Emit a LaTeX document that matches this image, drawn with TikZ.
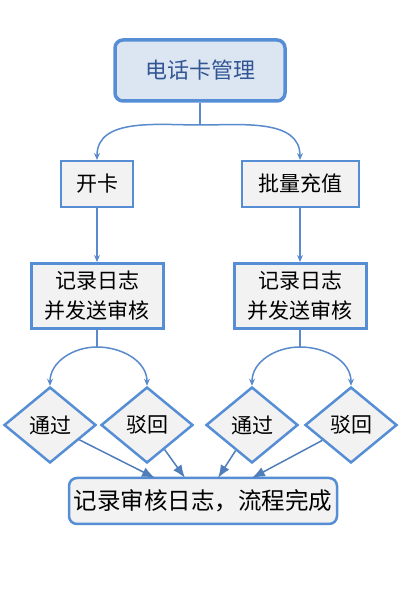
\documentclass[tikz,border=0pt]{standalone}
\usepackage{fontspec}
\setmainfont{Noto Sans CJK SC}
\usetikzlibrary{shapes.geometric,arrows.meta}
\definecolor{bordblue}{RGB}{85,142,213}
\definecolor{linkblue}{RGB}{88,138,204}
\definecolor{tipblue}{RGB}{79,126,187}
\definecolor{topfill}{RGB}{220,230,242}
\definecolor{boxfill}{RGB}{242,242,242}
\definecolor{toptext}{RGB}{50,86,148}
\begin{document}
\begin{tikzpicture}[x=1pt,y=1pt]
	\tikzstyle{title}=[rectangle,rounded corners=8pt,line width=3.5pt,draw=bordblue,fill=topfill,text=toptext,minimum width=170pt,minimum height=61pt,font=\fontsize{22}{26}\selectfont]
	\tikzstyle{task}=[rectangle,line width=2pt,draw=bordblue,fill=boxfill,minimum height=46pt,font=\fontsize{21}{25}\selectfont]
	\tikzstyle{logbox}=[rectangle,line width=3pt,draw=bordblue,fill=boxfill,minimum width=132pt,minimum height=65pt,align=center,font=\fontsize{21}{30}\selectfont]
	\tikzstyle{check}=[diamond,line width=2.5pt,draw=bordblue,fill=boxfill,minimum width=92pt,minimum height=76pt,inner sep=0pt,font=\fontsize{21}{25}\selectfont]
	\tikzstyle{finish}=[rectangle,rounded corners=8pt,line width=2.5pt,draw=bordblue,fill=boxfill,minimum width=268pt,minimum height=46pt,font=\fontsize{23.5}{27}\selectfont]
	\tikzstyle{edge}=[draw=linkblue,line width=1.5pt]
	\tikzstyle{branch}=[edge,-{Stealth[length=7pt,width=6pt]}]
	\tikzstyle{merge}=[draw=tipblue,line width=1.5pt,-{Latex[length=13pt,width=10pt]}]
	\useasboundingbox (0,0) rectangle (400,600);

	\node [title] (top) at (200,529.5) {电话卡管理};
	\coordinate (split0) at (200,475);
	\node [task,minimum width=72pt] (kaika) at (97,416) {开卡};
	\node [task,minimum width=117pt] (chongzhi) at (300,416) {批量充值};
	\node [logbox] (log1) at (97,304) {记录日志\\并发送审核};
	\node [logbox] (log2) at (300,304) {记录日志\\并发送审核};
	\coordinate (split1) at (97,253);
	\coordinate (split2) at (300,253);
	\node [check] (pass1) at (50,175) {通过};
	\node [check] (reject1) at (147,175) {驳回};
	\node [check] (pass2) at (252,175) {通过};
	\node [check] (reject2) at (351,175) {驳回};
	\node [finish] (done) at (203,99) {记录审核日志，流程完成};
	\coordinate (in1) at (155,122);
	\coordinate (in2) at (185,122);
	\coordinate (in3) at (218,122);
	\coordinate (in4) at (252,122);

	% top split
	\path[edge] (top) -- (split0);
	\path[branch] (split0) to[out=180,in=90] (kaika.north);
	\path[branch] (split0) to[out=0,in=90] (chongzhi.north);
	\path[branch] (kaika) -- (log1);
	\path[branch] (chongzhi) -- (log2);

	% review split
	\path[edge] (log1) -- (split1);
	\path[edge] (log2) -- (split2);
	\path[branch] (split1) to[out=180,in=90] (pass1.north);
	\path[branch] (split1) to[out=0,in=90] (reject1.north);
	\path[branch] (split2) to[out=180,in=90] (pass2.north);
	\path[branch] (split2) to[out=0,in=90] (reject2.north);

	% merge
	\path[merge] (pass1) -- (in1);
	\path[merge] (reject1) -- (in2);
	\path[merge] (pass2) -- (in3);
	\path[merge] (reject2) -- (in4);
\end{tikzpicture}
\end{document}
